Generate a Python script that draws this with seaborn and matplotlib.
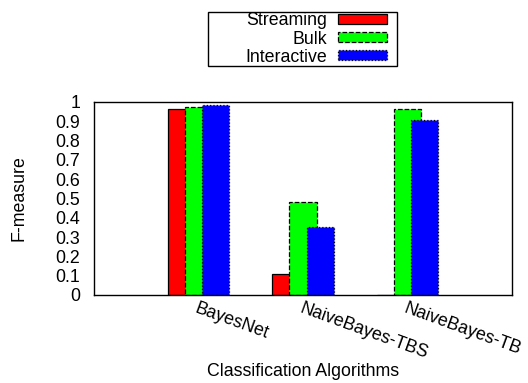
import pandas as pd
import matplotlib.pyplot as plt
from matplotlib.patches import Patch, Rectangle
import seaborn as sns

sns.set_style("white")
plt.rcParams['font.family'] = ['Liberation Sans', 'DejaVu Sans']
plt.rcParams['text.color'] = 'black'
plt.rcParams['axes.labelcolor'] = 'black'
plt.rcParams['xtick.color'] = 'black'
plt.rcParams['ytick.color'] = 'black'

# data
algorithms = ['BayesNet', 'NaiveBayes-TBS', 'NaiveBayes-TB']
streaming = [0.964, 0.11, 0.0]
bulk = [0.975, 0.482, 0.965]
interactive = [0.983, 0.35, 0.905]
series_names = ['Streaming', 'Bulk', 'Interactive']

colors = ['#ff0000', '#00ff00', '#0000ff']
edge_styles = ['-', '--', ':']
offsets = [-0.165, 0.0, 0.165]
fs = 12.8

fig = plt.figure(figsize=(5.28, 3.83), dpi=100)
ax = fig.add_axes([0.178, 0.230, 0.792, 0.504])

for name, vals, col, ls, off in zip(series_names, [streaming, bulk, interactive],
                                     colors, edge_styles, offsets):
    df = pd.DataFrame({'pos': [i + off for i in range(len(algorithms))],
                       'value': vals})
    sns.barplot(data=df, x='pos', y='value', native_scale=True, width=0.26,
                color=col, saturation=1, edgecolor='black', linewidth=0.9,
                linestyle=ls, ax=ax, errorbar=None)

ax.set_xlim(-1, 3)
ax.set_ylim(0, 1)
ax.set_yticks([i / 10 for i in range(11)])
ax.set_yticklabels(['%g' % (i / 10) for i in range(11)], fontsize=fs)
ax.set_xticks(range(len(algorithms)))
ax.set_xticklabels(algorithms, rotation=-20, ha='left', va='top',
                   rotation_mode='anchor', fontsize=fs)
ax.tick_params(axis='x', length=0, pad=4)
ax.tick_params(axis='y', length=0, pad=10)
ax.set_xlabel('Classification Algorithms', fontsize=fs)
ax.set_ylabel('F-measure', fontsize=fs)
ax.xaxis.set_label_coords(0.5, -0.355)
ax.yaxis.set_label_coords(-0.16, 0.5)

for s in ax.spines.values():
    s.set_color('black')
    s.set_linewidth(1)

# legend: gnuplot-style key, text on the left, samples on the right
handles = [Patch(facecolor=c, edgecolor='black', linestyle=ls, linewidth=0.9)
           for c, ls in zip(colors, edge_styles)]
leg = fig.legend(handles, series_names, loc='center',
                 bbox_to_anchor=(316 / 528, 1 - 39 / 383), markerfirst=False,
                 frameon=False, fontsize=fs, handlelength=2.75,
                 handleheight=0.5, labelspacing=0.06, borderpad=0,
                 handletextpad=0.65, borderaxespad=0)
for t in leg.get_texts():
    t.set_ha('right')
leg._legend_box.align = 'right'
fig.patches.append(Rectangle((208 / 528, 1 - 66 / 383), 189 / 528, 54 / 383,
                             transform=fig.transFigure, fill=False,
                             edgecolor='black', linewidth=1))

fig.savefig('out.png', dpi=100)
